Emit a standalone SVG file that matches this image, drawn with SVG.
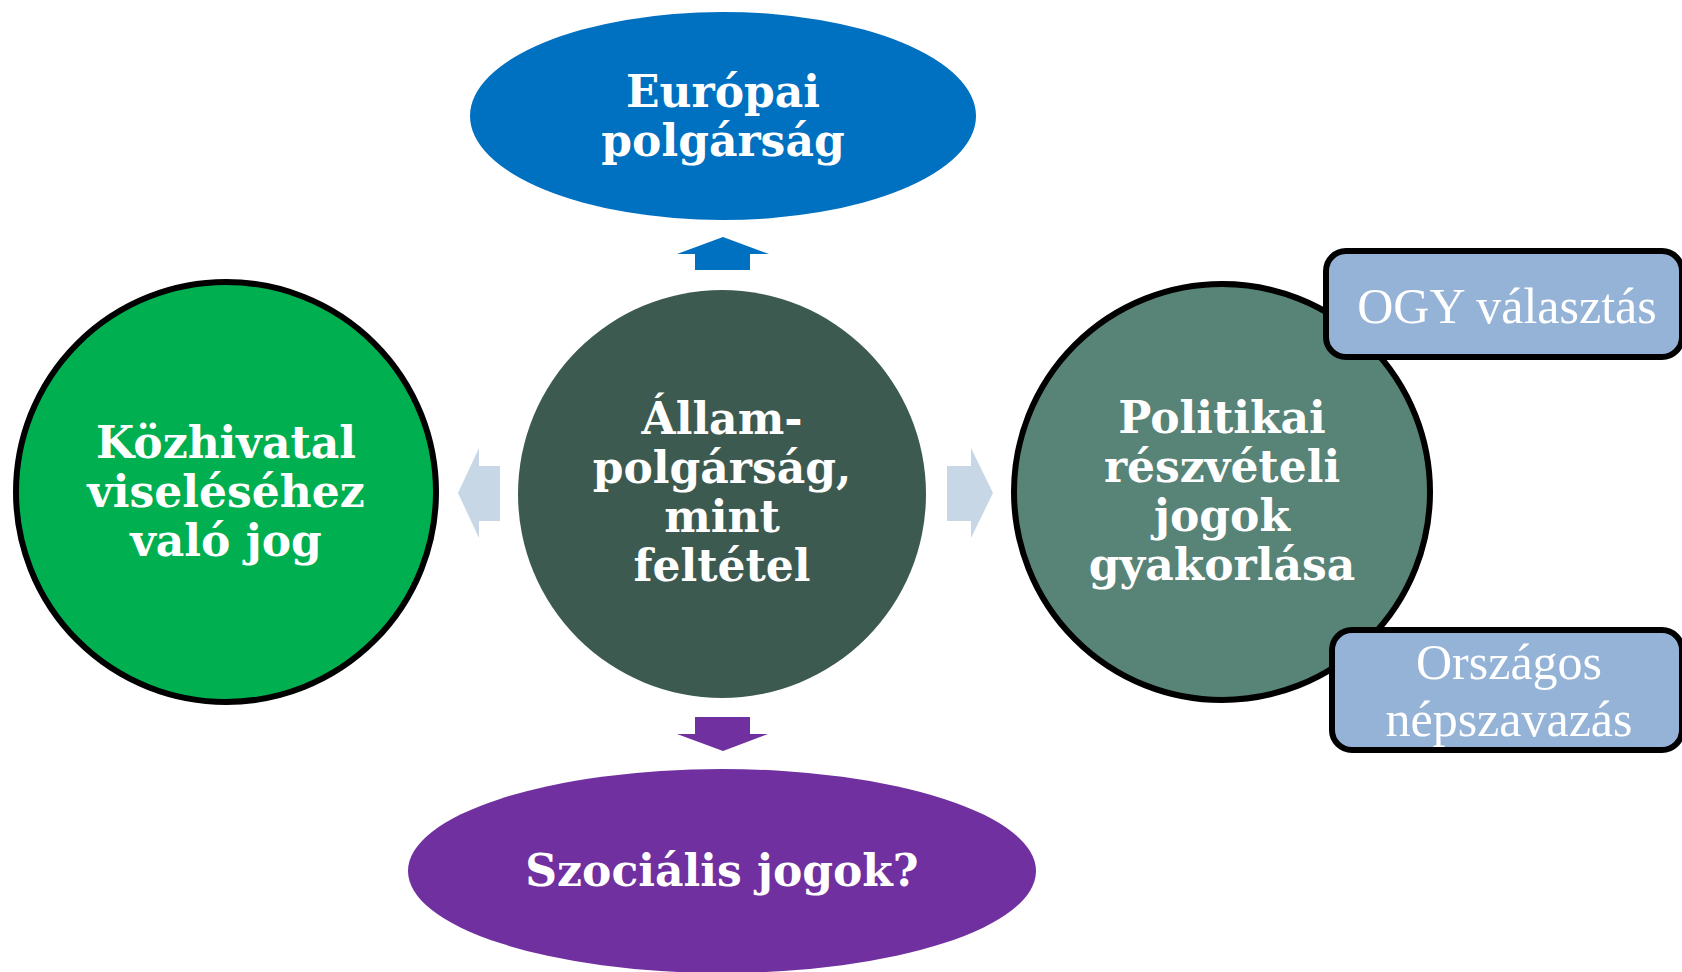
<svg xmlns="http://www.w3.org/2000/svg" width="1682" height="972" viewBox="0 0 1682 972">
<style>
.b{font-family:"DejaVu Serif","Liberation Serif",serif;font-weight:bold;font-size:44px;fill:#fff;text-anchor:middle}
.n{font-family:"Liberation Serif",serif;font-size:50px;fill:#fff;text-anchor:middle}
.ring{stroke:#000;stroke-width:6}
.box{fill:#95B3D7;stroke:#000;stroke-width:6}
</style>
<rect width="1682" height="972" fill="#fff"/>
<g id="connectors">
<polygon points="723,237 769,254 750,254 750,270 695,270 695,254 677,254" fill="#0070C0"/>
<polygon points="723,751 768,734 750,734 750,717 695,717 695,734 677,734" fill="#7030A0"/>
<polygon points="458,493 479,448 479,466 500,466 500,521 479,521 479,538" fill="#C8D7E6"/>
<polygon points="993,493 971,448 971,466 947,466 947,521 971,521 971,538" fill="#C8D7E6"/>
</g>
<g id="europai">
<ellipse cx="723" cy="116" rx="253" ry="104" fill="#0070C0"/>
<text class="b" x="723" y="107">Európai</text>
<text class="b" x="723" y="156">polgárság</text>
</g>
<g id="kozhivatal">
<circle class="ring" cx="226" cy="492" r="210" fill="#00B050"/>
<text class="b" x="226" y="458">Közhivatal</text>
<text class="b" x="226" y="507">viseléséhez</text>
<text class="b" x="226" y="556">való jog</text>
</g>
<g id="allampolgarsag">
<circle cx="722" cy="494" r="204" fill="#3D5A50"/>
<text class="b" x="722" y="434">Állam-</text>
<text class="b" x="722" y="483">polgárság,</text>
<text class="b" x="722" y="532">mint</text>
<text class="b" x="722" y="581">feltétel</text>
</g>
<g id="politikai">
<circle class="ring" cx="1222" cy="492" r="208" fill="#588377"/>
<text class="b" x="1222" y="433">Politikai</text>
<text class="b" x="1222" y="482">részvételi</text>
<text class="b" x="1222" y="531">jogok</text>
<text class="b" x="1222" y="580">gyakorlása</text>
</g>
<g id="ogy">
<rect class="box" x="1326" y="251" width="356" height="106" rx="20"/>
<text class="n" x="1507" y="323">OGY választás</text>
</g>
<g id="nepszavazas">
<rect class="box" x="1332" y="630" width="350" height="120" rx="20"/>
<text class="n" x="1509" y="679">Országos</text>
<text class="n" x="1509" y="736">népszavazás</text>
</g>
<g id="szocialis">
<ellipse cx="722" cy="871" rx="314" ry="102" fill="#7030A0"/>
<text class="b" x="722" y="886">Szociális jogok?</text>
</g>
</svg>
